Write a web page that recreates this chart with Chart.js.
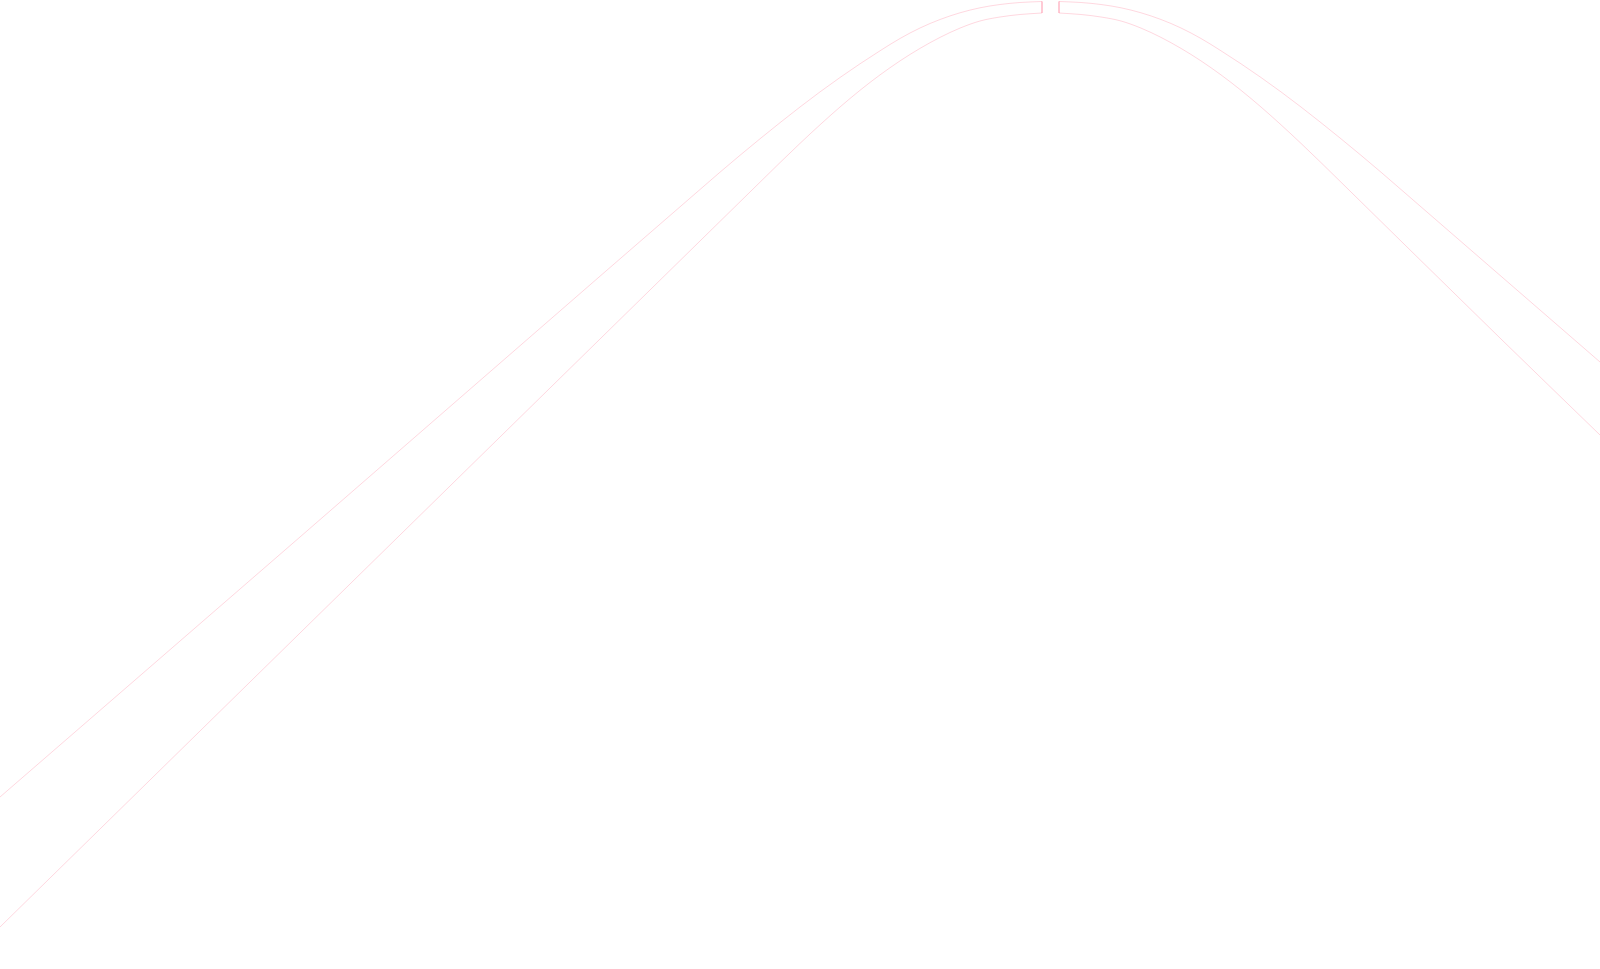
<!DOCTYPE html>
<html>
<head>
<meta charset="utf-8">
<script src="https://cdn.jsdelivr.net/npm/chart.js@4/dist/chart.umd.min.js"></script>
<style>
    html, body { margin: 0; padding: 0; background: #fff; overflow: hidden; }
    #wrap { width: 1600px; height: 969px; }
</style>
</head>
<body>
<div id="wrap"><canvas id="archChart"></canvas></div>
<script>
// --- data (x along the axis, y = height) ---
const upperLeftX  = [0, 300, 600, 700, 720, 740, 760, 780, 800, 820, 840, 860, 880, 900, 920, 940, 960, 980, 1000, 1020, 1042];
const upperLeftY  = [172, 432, 692.8, 779.5, 796.8, 813.7, 830.2, 846.3, 862, 877.1, 891.5, 905.2, 918.2, 930.5, 941, 949.5, 956.2, 961.2, 964.5, 966.5, 967.5];
const lowerLeftX  = [0, 300, 600, 760, 780, 800, 820, 840, 860, 880, 900, 920, 940, 960, 980, 1000, 1020, 1042];
const lowerLeftY  = [42, 336, 630, 786.8, 806.4, 825.6, 844.2, 862, 878.7, 894.1, 908.1, 920.6, 931.6, 940.9, 948, 952, 954.5, 956];
const upperRightX = [1059, 1081, 1101, 1121, 1141, 1161, 1181, 1201, 1221, 1241, 1261, 1281, 1301, 1321, 1341, 1361, 1381, 1401, 1501, 1600];
const upperRightY = [967.5, 966.5, 964.5, 961.2, 956.2, 949.5, 941, 930.5, 918.2, 905.2, 891.5, 877.1, 862, 846.3, 830.2, 813.7, 796.8, 779.5, 692.8, 607];
const lowerRightX = [1059, 1081, 1101, 1121, 1141, 1161, 1181, 1201, 1221, 1241, 1261, 1281, 1301, 1321, 1341, 1501, 1600];
const lowerRightY = [956, 954.5, 952, 948, 940.9, 931.6, 920.6, 908.1, 894.1, 878.7, 862, 844.2, 825.6, 806.4, 786.8, 630, 534];
// the short ends closing each half at the top
const capX = [1042, 1059];
const capTop = 967.5;
const capBottom = 956;

const xRange = [0, 1600];
const yRange = [0, 969];

const lineColor = 'rgba(255, 99, 132, 0.25)';

function toPoints(xs, ys) {
    return xs.map((x, i) => ({ x: x, y: ys[i] }));
}

function curve(xs, ys) {
    return {
        data: toPoints(xs, ys),
        borderColor: lineColor,
        borderWidth: 1,
        pointRadius: 0,
        fill: false,
        cubicInterpolationMode: 'monotone'
    };
}

const datasets = [
    curve(upperLeftX, upperLeftY),
    curve(lowerLeftX, lowerLeftY),
    curve(upperRightX, upperRightY),
    curve(lowerRightX, lowerRightY)
];
capX.forEach(x => {
    datasets.push({
        data: [{ x: x, y: capTop }, { x: x, y: capBottom }],
        borderColor: lineColor,
        borderWidth: 1,
        pointRadius: 0,
        fill: false,
        tension: 0
    });
});

new Chart(document.getElementById('archChart'), {
    type: 'line',
    data: { datasets: datasets },
    options: {
        responsive: true,
        maintainAspectRatio: false,
        animation: false,
        layout: { padding: 0 },
        plugins: {
            legend: { display: false },
            tooltip: { enabled: false }
        },
        scales: {
            x: { type: 'linear', min: xRange[0], max: xRange[1], display: false },
            y: { type: 'linear', min: yRange[0], max: yRange[1], display: false }
        }
    }
});
</script>
</body>
</html>
